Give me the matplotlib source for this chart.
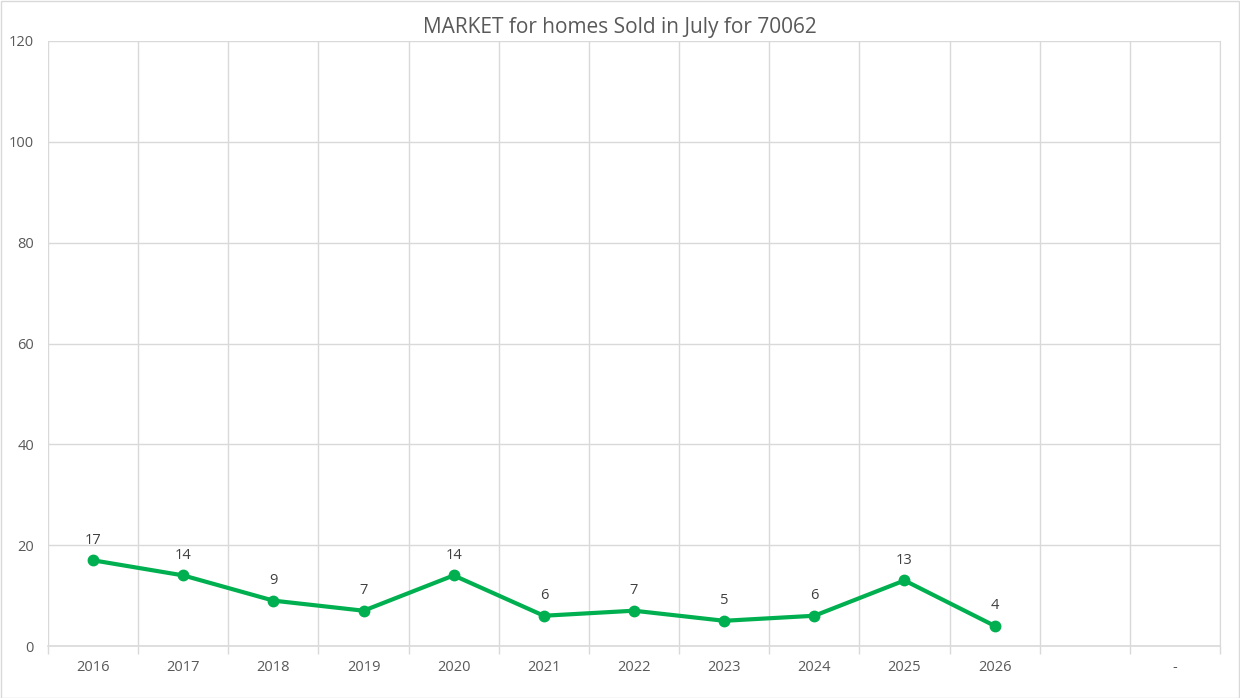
import matplotlib
matplotlib.use("Agg")
import matplotlib.pyplot as plt
from matplotlib.patches import Rectangle

plt.rcParams["font.family"] = ["Open Sans", "DejaVu Sans"]

# categories on the x axis (last two are empty / "-")
categories = ["2016", "2017", "2018", "2019", "2020", "2021", "2022",
              "2023", "2024", "2025", "2026", "", "-"]
homes_sold = [17, 14, 9, 7, 14, 6, 7, 5, 6, 13, 4]

titre = "MARKET for homes Sold in July for 70062"
gris_texte = "#595959"
gris_grille = "#d9d9d9"
vert = "#00B050"

fig = plt.figure(figsize=(12.4, 6.98), dpi=100)
ax = fig.add_axes([48 / 1240, 52 / 698, 1172 / 1240, 605 / 698])

xs = list(range(len(homes_sold)))
ax.plot(xs, homes_sold, color=vert, linewidth=3, marker="o", markersize=7.5,
        zorder=3, solid_capstyle="round")
for x, v in zip(xs, homes_sold):
    ax.annotate(str(v), (x, v), xytext=(0, 9), textcoords="offset points",
                ha="center", va="bottom", fontsize=10.5, color="#404040")

ax.set_xlim(-0.5, len(categories) - 0.5)
ax.set_ylim(0, 120)
ax.set_yticks(range(0, 121, 20))
ax.set_xticks(range(len(categories)))
ax.set_xticklabels(categories)
ax.set_xticks([i - 0.5 for i in range(len(categories) + 1)], minor=True)

ax.tick_params(axis="x", which="major", length=0, pad=10, labelsize=10.5, labelcolor=gris_texte)
ax.tick_params(axis="x", which="minor", length=6, color=gris_grille, width=1)
ax.tick_params(axis="y", length=0, pad=10, labelsize=10.5, labelcolor=gris_texte)

ax.grid(True, axis="y", color=gris_grille, linewidth=1)
ax.grid(True, axis="x", which="minor", color=gris_grille, linewidth=1)
ax.set_axisbelow(True)
for side in ["top", "left"]:
    ax.spines[side].set_visible(False)
ax.spines["right"].set_color(gris_grille)
ax.spines["bottom"].set_color(gris_grille)
ax.spines["bottom"].set_linewidth(1.2)

fig.text(620 / 1240, 1 - 28 / 698, titre, ha="center", va="center",
         fontsize=15, color=gris_texte)

fig.patches.append(Rectangle((0.5 / 1240, 0.5 / 698), 1 - 1.5 / 1240, 1 - 1.5 / 698,
                             transform=fig.transFigure, fill=False,
                             edgecolor=gris_grille, linewidth=1))

fig.savefig("out.png", dpi=100)
